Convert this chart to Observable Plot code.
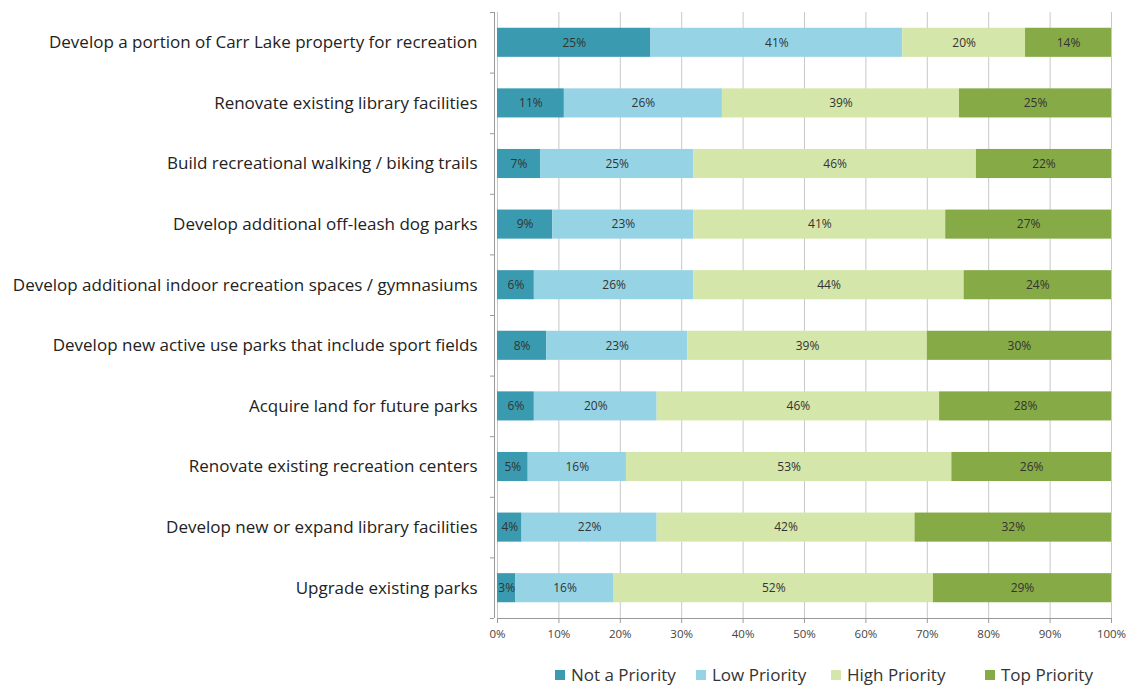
<!DOCTYPE html>
<html>
<head>
<meta charset="utf-8">
<script src="https://cdn.jsdelivr.net/npm/d3@7"></script>
<script src="https://cdn.jsdelivr.net/npm/@observablehq/plot@0.6"></script>
<style>
  body { margin: 0; background: #fff; font-family: "Open Sans", Lato, sans-serif; }
  #wrap { position: relative; width: 1132px; height: 689px; }
  #legend { position: absolute; left: 0; top: 663px; width: 1132px; height: 26px; font-size: 17px; color: #333; }
  #legend div { position: absolute; top: 0; white-space: nowrap; }
  #legend span.sw { display: inline-block; width: 10px; height: 10px; margin-right: 6px; vertical-align: 1px; }
</style>
</head>
<body>
<div id="wrap">
  <div id="chart"></div>
  <div id="legend"></div>
</div>
<script>
const items = [
  "Develop a portion of Carr Lake property for recreation",
  "Renovate existing library facilities",
  "Build recreational walking / biking trails",
  "Develop additional off-leash dog parks",
  "Develop additional indoor recreation spaces / gymnasiums",
  "Develop new active use parks that include sport fields",
  "Acquire land for future parks",
  "Renovate existing recreation centers",
  "Develop new or expand library facilities",
  "Upgrade existing parks"
];
const priorities = ["Not a Priority", "Low Priority", "High Priority", "Top Priority"];
const colors = ["#3a9bb0", "#96d3e5", "#d5e6aa", "#86aa46"];
const notPriority  = [25, 11, 7, 9, 6, 8, 6, 5, 4, 3];
const lowPriority  = [41, 26, 25, 23, 26, 23, 20, 16, 22, 16];
const highPriority = [20, 39, 46, 41, 44, 39, 46, 53, 42, 52];
const topPriority  = [14, 25, 22, 27, 24, 30, 28, 26, 32, 29];
const xTicks = [0, 0.1, 0.2, 0.3, 0.4, 0.5, 0.6, 0.7, 0.8, 0.9, 1];
const legendLeft = [555, 696, 831, 985];

const series = [notPriority, lowPriority, highPriority, topPriority];
const data = [];
items.forEach((item, i) => {
  priorities.forEach((p, j) => data.push({item, priority: p, value: series[j][i]}));
});

const H = 656, MT = 12, MB = 38;
const halfStep = (H - MT - MB) / items.length / 2;

const chart = Plot.plot({
  width: 1132,
  height: H,
  marginLeft: 497,
  marginRight: 21,
  marginTop: MT,
  marginBottom: MB,
  style: {fontFamily: "'Open Sans', Lato, sans-serif", background: "#fff"},
  x: {domain: [0, 1]},
  y: {domain: items, paddingInner: 0.52, paddingOuter: 0.26, round: false},
  color: {domain: priorities, range: colors},
  marks: [
    Plot.gridX(xTicks, {stroke: "#c8c8c8", strokeOpacity: 1}),
    Plot.barX(data, Plot.stackX({x: "value", y: "item", fill: "priority", order: priorities, offset: "normalize"})),
    Plot.textX(data, Plot.stackX({x: "value", y: "item", z: "priority", order: priorities, offset: "normalize",
      text: d => d.value + "%", fill: "#333", fontSize: 12})),
    Plot.ruleX([0], {stroke: "#999", dx: -3}),
    Plot.ruleY(items, {y: d => d, x1: -0.0115, x2: -0.005, dy: -halfStep, stroke: "#999"}),
    Plot.ruleY(items.slice(-1), {y: d => d, x1: -0.0115, x2: -0.005, dy: halfStep, stroke: "#999"}),
    Plot.frame({anchor: "bottom", stroke: "#999"}),
    Plot.axisX({ticks: xTicks, tickFormat: d => Math.round(d * 100) + "%", tickSize: 5, tickPadding: 6,
      fontSize: 11.5, color: "#444", stroke: "#999", label: null}),
    Plot.axisY({tickSize: 0, tickPadding: 20, fontSize: 17, fill: "#222", label: null})
  ]
});
document.getElementById("chart").appendChild(chart);

const legend = document.getElementById("legend");
priorities.forEach((p, j) => {
  const d = document.createElement("div");
  d.style.left = legendLeft[j] + "px";
  d.innerHTML = `<span class="sw" style="background:${colors[j]}"></span>${p}`;
  legend.appendChild(d);
});
</script>
</body>
</html>
